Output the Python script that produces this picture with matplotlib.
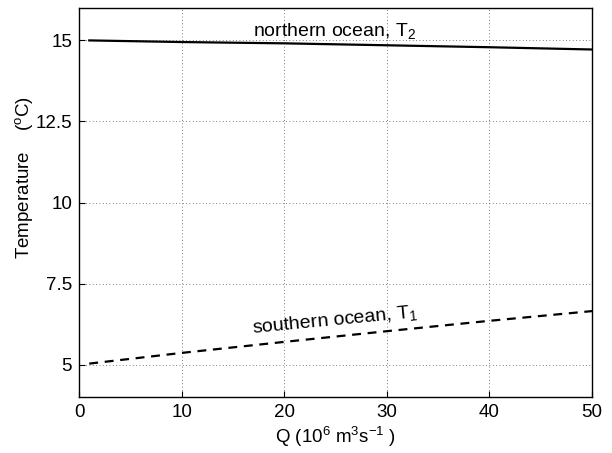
import matplotlib
matplotlib.use("Agg")
import matplotlib.pyplot as plt
import numpy as np

plt.rcParams['font.family'] = ['Liberation Sans', 'DejaVu Sans']
plt.rcParams['mathtext.fontset'] = 'custom'
plt.rcParams['mathtext.rm'] = 'Liberation Sans'
plt.rcParams['mathtext.it'] = 'Liberation Sans'

# data
q = [1, 10, 20, 30, 40, 50]
t_north = [15.0, 14.95, 14.91, 14.85, 14.79, 14.72]
t_south = [5.03, 5.36, 5.70, 6.03, 6.35, 6.65]
xticks = [0, 10, 20, 30, 40, 50]
yticks = [5, 7.5, 10, 12.5, 15]
yticklabels = ['5', '7.5', '10', '12.5', '15']

fig = plt.figure(figsize=(6.12, 4.53), dpi=100)
ax = fig.add_axes([79/612, 1 - 397/453, 513/612, 389/453])

ax.plot(q, t_north, color='black', lw=1.6)
ax.plot(q, t_south, color='black', lw=1.6, ls=(0, (4, 3)))

ax.text(24.9, 15.28, 'northern ocean, T$_2$', ha='center', va='center', fontsize=14)
ax.text(24.9, 6.36, 'southern ocean, T$_1$', ha='center', va='center', fontsize=14, rotation=5.5)

ax.set_xlim(0, 50)
ax.set_ylim(4, 16)
ax.set_xticks(xticks)
ax.set_yticks(yticks)
ax.set_yticklabels(yticklabels)
ax.tick_params(direction='in', labelsize=13.5, length=4, width=0.8, pad=5)
ax.grid(True, ls=(0, (1, 3)), color='#555555', lw=0.6)
for s in ax.spines.values():
    s.set_linewidth(1.0)

ax.set_xlabel('Q (10$^6$ m$^3$s$^{\\mathrm{-}1}$ )', fontsize=13.5, labelpad=3)
ax.set_ylabel('Temperature    ($^o$C)', fontsize=13.5)
ax.yaxis.set_label_coords(-0.086, 0.565)

fig.savefig('out.png', dpi=100)
